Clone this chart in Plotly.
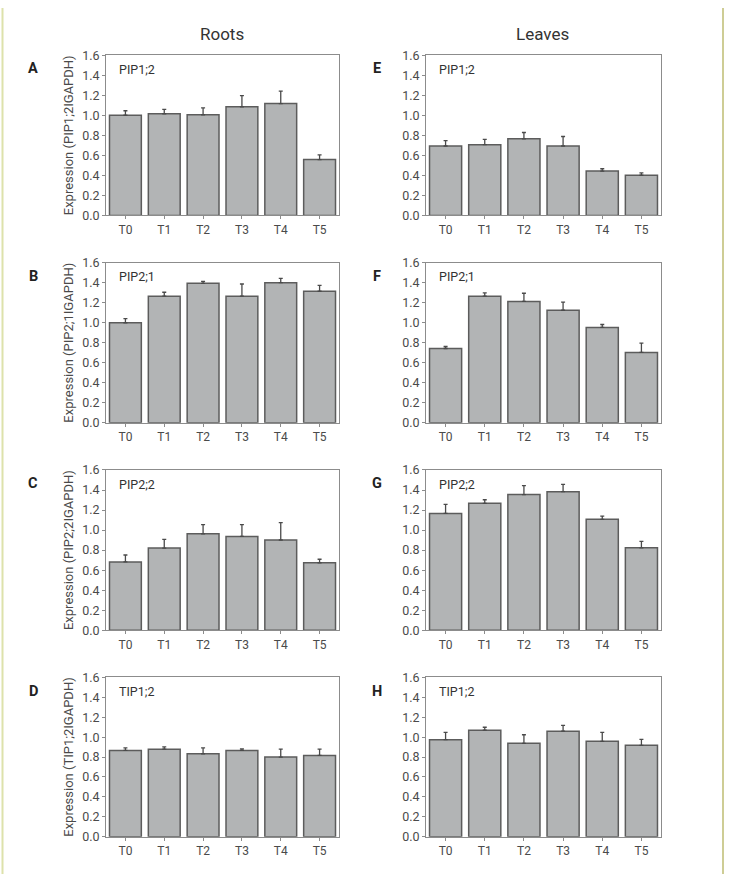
import plotly.graph_objects as go

categories = ["T0", "T1", "T2", "T3", "T4", "T5"]

# Roots
roots_pip12 = [1.00, 1.015, 1.005, 1.084, 1.117, 0.558]
roots_pip12_err = [0.045, 0.043, 0.069, 0.112, 0.125, 0.046]
roots_pip21 = [0.999, 1.265, 1.393, 1.265, 1.399, 1.314]
roots_pip21_err = [0.042, 0.039, 0.020, 0.121, 0.043, 0.059]
roots_pip22 = [0.682, 0.820, 0.963, 0.937, 0.901, 0.673]
roots_pip22_err = [0.069, 0.088, 0.092, 0.118, 0.173, 0.036]
roots_tip12 = [0.866, 0.879, 0.833, 0.866, 0.800, 0.816]
roots_tip12_err = [0.026, 0.023, 0.059, 0.016, 0.079, 0.063]

# Leaves
leaves_pip12 = [0.693, 0.706, 0.765, 0.693, 0.443, 0.401]
leaves_pip12_err = [0.053, 0.053, 0.063, 0.095, 0.023, 0.023]
leaves_pip21 = [0.742, 1.265, 1.212, 1.124, 0.953, 0.703]
leaves_pip21_err = [0.020, 0.033, 0.082, 0.082, 0.029, 0.092]
leaves_pip22 = [1.166, 1.267, 1.355, 1.384, 1.107, 0.823]
leaves_pip22_err = [0.091, 0.036, 0.088, 0.072, 0.033, 0.065]
leaves_tip12 = [0.974, 1.070, 0.938, 1.060, 0.958, 0.918]
leaves_tip12_err = [0.073, 0.029, 0.086, 0.059, 0.089, 0.060]

gene_names = ["PIP1;2", "PIP2;1", "PIP2;2", "TIP1;2"]
panel_letters_roots = ["A", "B", "C", "D"]
panel_letters_leaves = ["E", "F", "G", "H"]
y_titles = ["Expression (PIP1;2IGAPDH)", "Expression (PIP2;1IGAPDH)",
            "Expression (PIP2;2IGAPDH)", "Expression (TIP1;2IGAPDH)"]
column_titles = ["Roots", "Leaves"]

roots_vals = [roots_pip12, roots_pip21, roots_pip22, roots_tip12]
roots_errs = [roots_pip12_err, roots_pip21_err, roots_pip22_err, roots_tip12_err]
leaves_vals = [leaves_pip12, leaves_pip21, leaves_pip22, leaves_tip12]
leaves_errs = [leaves_pip12_err, leaves_pip21_err, leaves_pip22_err, leaves_tip12_err]

W, H = 729, 881
col_x = [(106, 339), (426, 661)]
row_y = [(48, 211), (259, 422), (470, 633), (681, 843)]
letter_x = [33, 377]
title_x = [222, 542]

FONT = "Roboto"
BAR_FILL = "#b2b4b5"
BAR_LINE = "#5c5c5c"
AX_LINE = "#8c8c8c"
TXT = "#4a4a4a"

fig = go.Figure()
layout = {}
annotations = []

idx = 0
for c in range(2):
    vals_set = roots_vals if c == 0 else leaves_vals
    errs_set = roots_errs if c == 0 else leaves_errs
    letters = panel_letters_roots if c == 0 else panel_letters_leaves
    for r in range(4):
        idx += 1
        xa = "x" if idx == 1 else f"x{idx}"
        ya = "y" if idx == 1 else f"y{idx}"
        xkey = "xaxis" if idx == 1 else f"xaxis{idx}"
        ykey = "yaxis" if idx == 1 else f"yaxis{idx}"
        fig.add_trace(go.Bar(
            x=categories, y=vals_set[r], xaxis=xa, yaxis=ya,
            marker=dict(color=BAR_FILL, line=dict(color=BAR_LINE, width=1.5)),
            error_y=dict(type="data", array=errs_set[r], arrayminus=[0]*6,
                         symmetric=False, color="#4a4a4a", thickness=1.3, width=2),
            showlegend=False, hoverinfo="skip",
        ))
        x0, x1 = col_x[c]
        y0, y1 = row_y[r]
        layout[xkey] = dict(
            domain=[x0 / W, x1 / W], anchor=ya, range=[-0.5, 5.5],
            showline=True, linecolor=AX_LINE, linewidth=1, mirror=True,
            ticks="outside", ticklen=3, tickcolor=AX_LINE,
            tickfont=dict(family=FONT, size=12, color=TXT),
            showgrid=False, zeroline=False, fixedrange=True,
        )
        layout[ykey] = dict(
            domain=[1 - y1 / H, 1 - y0 / H], anchor=xa, range=[0, 1.6],
            dtick=0.2, tick0=0, tickformat=".1f",
            showline=True, linecolor=AX_LINE, linewidth=1, mirror=True,
            ticks="outside", ticklen=3, tickcolor=AX_LINE,
            tickfont=dict(family=FONT, size=12.5, color=TXT),
            showgrid=False, zeroline=False, fixedrange=True,
        )
        if c == 0:
            layout[ykey]["title"] = dict(text=y_titles[r],
                                         font=dict(family=FONT, size=13, color=TXT),
                                         standoff=5)
        # gene label
        annotations.append(dict(
            text=gene_names[r], xref="paper", yref="paper",
            x=(x0 + 11) / W, y=1 - (y0 + 14.5) / H, xanchor="left", yanchor="middle",
            showarrow=False, font=dict(family=FONT, size=12.5, color="#333333"),
        ))
        # panel letter
        annotations.append(dict(
            text=f"<b>{letters[r]}</b>", xref="paper", yref="paper",
            x=letter_x[c] / W, y=1 - (y0 + 14) / H,
            xanchor="center", yanchor="middle", showarrow=False,
            font=dict(family=FONT, size=14.5, color="#222222"),
        ))

for c, t in enumerate(column_titles):
    annotations.append(dict(
        text=t, xref="paper", yref="paper",
        x=title_x[c] / W, y=1 - 26 / H,
        xanchor="center", yanchor="middle", showarrow=False,
        font=dict(family=FONT, size=17, color="#333333"),
    ))

shapes = [
    dict(type="line", xref="paper", yref="paper", x0=2.5 / W, x1=2.5 / W, y0=0, y1=1,
         line=dict(color="#dde2ab", width=2)),
    dict(type="line", xref="paper", yref="paper", x0=723 / W, x1=723 / W, y0=0, y1=1,
         line=dict(color="#bebc72", width=1.5)),
]

fig.update_layout(
    width=W, height=H, margin=dict(l=0, r=0, t=0, b=0),
    paper_bgcolor="white", plot_bgcolor="white",
    bargap=0.18, annotations=annotations, shapes=shapes,
    **layout,
)

fig.write_html("out.html")
